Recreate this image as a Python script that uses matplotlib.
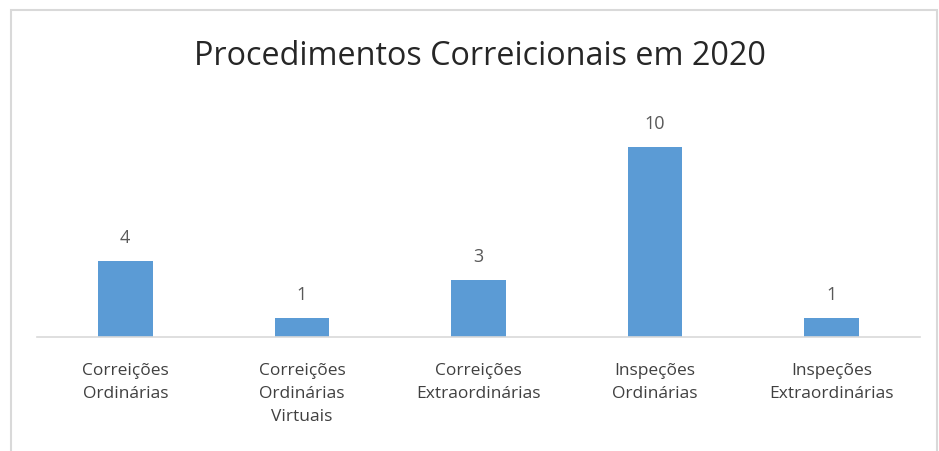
import matplotlib.pyplot as plt
from matplotlib.patches import Rectangle

categorias = ['Correições\nOrdinárias', 'Correições\nOrdinárias\nVirtuais',
              'Correições\nExtraordinárias', 'Inspeções\nOrdinárias',
              'Inspeções\nExtraordinárias']
valores = [4, 1, 3, 10, 1]

W, H = 939, 452
fig = plt.figure(figsize=(W / 100, H / 100), dpi=100)
plt.rcParams['font.family'] = ['Open Sans', 'DejaVu Sans']

# moldura cinza do grafico
fig.patches.append(Rectangle((11 / W, -0.05), (937 - 11) / W, 1.05 - 11 / H,
                             transform=fig.transFigure, fill=False,
                             edgecolor='#d9d9d9', linewidth=1.5))

# area do eixo: baseline em y=338, largura 37..920
left, right = 37 / W, 920 / W
bottom = 1 - 338 / H
top = 1 - 100 / H
ax = fig.add_axes([left, bottom, right - left, top - bottom])

x = range(len(valores))
barras = ax.bar(x, valores, width=0.31, color='#5b9bd5')
ax.set_xlim(-0.5, len(valores) - 0.5)
ax.set_ylim(0, (338 - 100) / 19)

for b, v in zip(barras, valores):
    ax.annotate(str(v), (b.get_x() + b.get_width() / 2, v), xytext=(0, 11),
                textcoords='offset points', ha='center', va='bottom',
                fontsize=13, color='#595959')

ax.set_xticks(list(x))
ax.set_xticklabels(categorias, fontsize=12.5, color='#404040', linespacing=1.6)
ax.tick_params(axis='x', length=0, pad=18)
ax.set_yticks([])
for s in ['top', 'left', 'right']:
    ax.spines[s].set_visible(False)
ax.spines['bottom'].set_color('#d9d9d9')
ax.spines['bottom'].set_linewidth(1.2)

fig.text(480 / W, 1 - 65 / H, 'Procedimentos Correicionais em 2020',
         ha='center', va='baseline', fontsize=23.3, color='#262626')

fig.savefig('out.png', dpi=100)
